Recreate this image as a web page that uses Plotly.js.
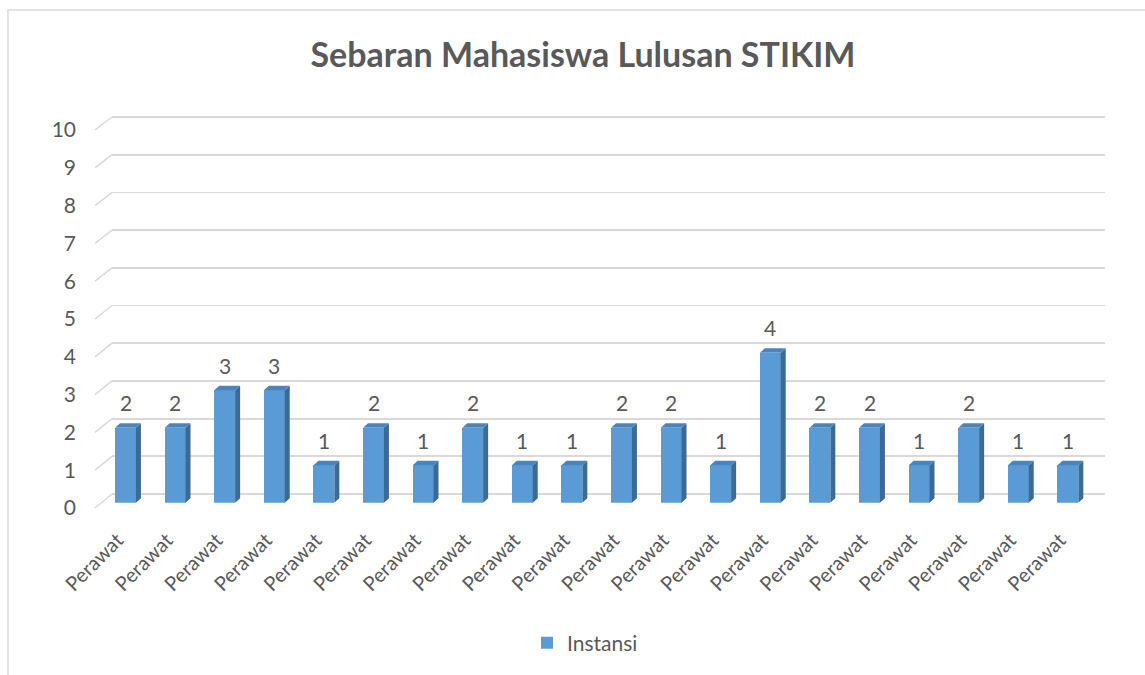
<!DOCTYPE html>
<html>
<head>
<meta charset="utf-8">
<script src="https://cdn.plot.ly/plotly-3.0.1.min.js"></script>
<style>
  html, body { margin: 0; padding: 0; background: #ffffff; }
  #chart { width: 1145px; height: 675px; }
</style>
</head>
<body>
<div id="chart"></div>
<script>
// ---- Data ----
const categories = ["Perawat","Perawat","Perawat","Perawat","Perawat","Perawat","Perawat","Perawat","Perawat","Perawat",
                    "Perawat","Perawat","Perawat","Perawat","Perawat","Perawat","Perawat","Perawat","Perawat","Perawat"];
const instansi = [2, 2, 3, 3, 1, 2, 1, 2, 1, 1, 2, 2, 1, 4, 2, 2, 1, 2, 1, 1];
const yTickValues = [0, 1, 2, 3, 4, 5, 6, 7, 8, 9, 10];
const seriesName = "Instansi";
const chartTitle = "Sebaran Mahasiswa Lulusan STIKIM";

// ---- Geometry helpers (pixel layout) ----
const W = 1145, H = 675;
const M = { l: 40, r: 20, t: 90, b: 140 };
const pw = W - M.l - M.r, ph = H - M.t - M.b;
const px2x = p => (p - M.l) / pw;
const py2y = p => (H - M.b - p) / ph;

const FRONT = { x0: 100.7, x1: 1092.7, y0: 502.7, y1: 127.7 };
const BACK  = { x0: 112,   x1: 1105,   y0: 494,   y1: 117 };
const LAB   = { y0: 508, y1: 130, xFront: 95 };
const XLAB_SHIFT = -8;
const yMax = 10;
const PAD = 0.2; // keeps end gridlines away from the axis ends
const backUnit = (BACK.y0 - BACK.y1) / yMax;

const idx = categories.map((_, i) => i);
const barW = 0.42;
const catPx = (FRONT.x1 - FRONT.x0) / categories.length;
const unitPx = (FRONT.y0 - FRONT.y1) / yMax;
const depthX = 5 / catPx, depthY = 4.5 / unitPx;

const font = 'Lato, "Open Sans", sans-serif';
const textColor = '#595959';

// 3D side and top faces computed from the data
const shapes = [];
instansi.forEach((v, i) => {
  const xl = i - barW / 2, xr = i + barW / 2;
  shapes.push({
    type: 'path', xref: 'x2', yref: 'y2', layer: 'above',
    path: `M${xr},0 L${xr},${v} L${xr + depthX},${v + depthY} L${xr + depthX},${depthY} Z`,
    fillcolor: '#3C6A96', line: { width: 0 }
  });
  shapes.push({
    type: 'path', xref: 'x2', yref: 'y2', layer: 'above',
    path: `M${xl},${v} L${xl + depthX},${v + depthY} L${xr + depthX},${v + depthY} L${xr},${v} Z`,
    fillcolor: '#4A84BD', line: { width: 0 }
  });
});

// Diagonal connectors from tick labels (front) to back-wall gridlines
const labPx = v => LAB.y0 - v * (LAB.y0 - LAB.y1) / yMax;
const backPx = v => BACK.y0 - v * backUnit;
yTickValues.forEach(v => {
  shapes.push({
    type: 'line', xref: 'paper', yref: 'paper', layer: 'below',
    x0: px2x(LAB.xFront), y0: py2y(labPx(v)),
    x1: px2x(BACK.x0), y1: py2y(backPx(v)),
    line: { color: '#D9D9D9', width: 1.5 }
  });
});

// Outer chart border
shapes.push({
  type: 'rect', xref: 'paper', yref: 'paper', layer: 'below',
  x0: px2x(8), y0: py2y(690), x1: px2x(1160), y1: py2y(10),
  line: { color: '#D9D9D9', width: 1.5 }, fillcolor: 'rgba(0,0,0,0)'
});

// Value labels
const annotations = instansi.map((v, i) => ({
  x: i, y: v + depthY, xref: 'x2', yref: 'y2',
  text: String(v), showarrow: false, yanchor: 'bottom', yshift: 6,
  font: { family: font, size: 21, color: textColor }
}));

const traces = [
  // back wall (gridlines) subplot: drawn first
  {
    type: 'scatter', mode: 'markers', x: [0], y: [0], xaxis: 'x', yaxis: 'y',
    marker: { opacity: 0 }, showlegend: false, hoverinfo: 'skip'
  },
  // front bars
  {
    type: 'bar', x: idx, y: instansi, width: barW, name: seriesName,
    marker: { color: '#5B9BD5', line: { width: 0 } },
    hoverinfo: 'skip', xaxis: 'x2', yaxis: 'y2'
  },
  // value-axis labels
  {
    type: 'scatter', mode: 'markers', x: [0], y: [0], xaxis: 'x2', yaxis: 'y3',
    marker: { opacity: 0 }, showlegend: false, hoverinfo: 'skip'
  },
  // category labels
  {
    type: 'scatter', mode: 'markers', x: [0], y: [0], xaxis: 'x3', yaxis: 'y2',
    marker: { opacity: 0 }, showlegend: false, hoverinfo: 'skip'
  }
];

const hidden = { showgrid: false, zeroline: false, showline: false, showticklabels: false, ticks: '' };

const layout = {
  width: W, height: H,
  margin: M,
  paper_bgcolor: '#ffffff', plot_bgcolor: 'rgba(0,0,0,0)',
  font: { family: font, size: 21, color: textColor },
  title: {
    text: chartTitle, x: 583 / W, xanchor: 'center', y: 1 - 55 / H, yanchor: 'middle',
    font: { family: font, size: 34, color: textColor, weight: 'bold' }
  },
  xaxis: Object.assign({
    domain: [px2x(BACK.x0), px2x(BACK.x1)], range: [-0.5, categories.length - 0.5], anchor: 'y'
  }, hidden),
  yaxis: {
    domain: [py2y(BACK.y0 + PAD * backUnit), py2y(BACK.y1 - PAD * backUnit)],
    range: [-PAD, yMax + PAD], anchor: 'x',
    tickvals: yTickValues, showgrid: true, gridcolor: '#D9D9D9', gridwidth: 1.8,
    zeroline: false, showline: false, showticklabels: false, ticks: ''
  },
  xaxis2: Object.assign({
    domain: [px2x(FRONT.x0), px2x(FRONT.x1)], range: [-0.5, categories.length - 0.5], anchor: 'y2'
  }, hidden),
  yaxis2: Object.assign({
    domain: [py2y(FRONT.y0), py2y(FRONT.y1)], range: [0, yMax], anchor: 'x2'
  }, hidden),
  yaxis3: {
    domain: [py2y(LAB.y0), py2y(LAB.y1)], range: [0, yMax],
    anchor: 'free', position: px2x(76), side: 'left',
    tickvals: yTickValues, ticks: '', showgrid: false, zeroline: false, showline: false,
    tickfont: { family: font, size: 21, color: textColor }
  },
  xaxis3: {
    domain: [px2x(FRONT.x0 + XLAB_SHIFT), px2x(FRONT.x1 + XLAB_SHIFT)],
    range: [-0.5, categories.length - 0.5], anchor: 'y2',
    tickvals: idx, ticktext: categories, tickangle: -45,
    ticks: 'outside', ticklen: 17, tickcolor: 'rgba(0,0,0,0)',
    showgrid: false, zeroline: false, showline: false,
    tickfont: { family: font, size: 20, color: textColor }
  },
  showlegend: true,
  legend: {
    orientation: 'h', x: px2x(527), xanchor: 'left', y: py2y(643), yanchor: 'middle',
    font: { family: font, size: 21, color: textColor }, bgcolor: 'rgba(0,0,0,0)'
  },
  shapes: shapes,
  annotations: annotations,
  bargap: 0
};

Plotly.newPlot('chart', traces, layout, { displayModeBar: false, staticPlot: true });
</script>
</body>
</html>
